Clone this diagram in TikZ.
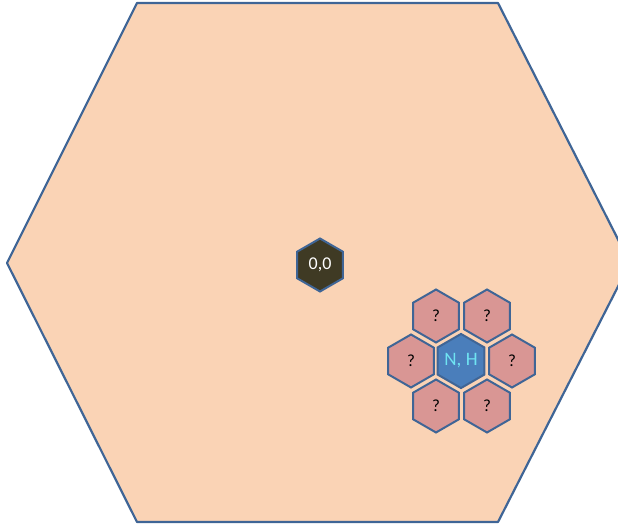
\documentclass[tikz,border=0pt]{standalone}
\usepackage{fontspec}
\setmainfont{Carlito}
\usetikzlibrary{shapes.geometric}

\definecolor{peach}{HTML}{FAD3B5}
\definecolor{edgeblue}{HTML}{3F6596}
\definecolor{rose}{HTML}{D99694}
\definecolor{cellblue}{HTML}{4A7EBB}
\definecolor{olive}{HTML}{3F3A24}
\definecolor{nhcyan}{HTML}{6FE3F2}

\begin{document}
\begin{tikzpicture}[
    x=1pt, y=-1pt,
    every node/.style={font=\rmfamily, align=center, text=black},
    hexcell/.style={
      regular polygon, regular polygon sides=6, shape border rotate=30,
      minimum size=53pt, inner sep=0pt,
      draw=edgeblue, line width=2pt
    },
    guess/.style={hexcell, fill=rose, font=\rmfamily\fontsize{17}{17}\selectfont, text=black},
    origin/.style={hexcell, fill=olive, text=white, font=\rmfamily\fontsize{18}{18}\selectfont},
    current/.style={hexcell, fill=cellblue, text=nhcyan, font=\rmfamily\fontsize{19}{19}\selectfont}
  ]

    \useasboundingbox (0,0) rectangle (618,526);

    % outer board
    \draw[edgeblue, fill=peach, line width=2.2pt, line join=round]
      (137,3) -- (498,3) -- (630,263) -- (498,522) -- (137,522) -- (7,263) -- cycle;

    % origin cell
    \node[origin] (org) at (320,265) {0,0};

    % current cell and its ring
    \node[current] (nh) at (461,361) {N, H};
    \node[guess] (ul) at (436,316) {?};
    \node[guess] (ur) at (487,316) {?};
    \node[guess] (ml) at (411,361) {?};
    \node[guess] (mr) at (512,361) {?};
    \node[guess] (ll) at (436,406) {?};
    \node[guess] (lr) at (487,406) {?};

  \end{tikzpicture}
\end{document}
